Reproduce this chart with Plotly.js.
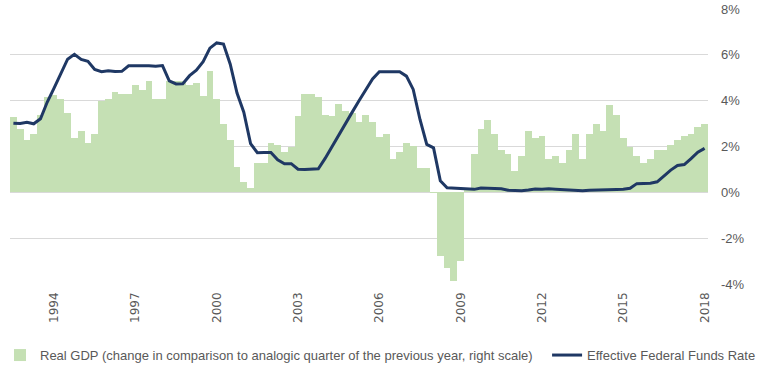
<!DOCTYPE html>
<html>
<head>
<meta charset="utf-8">
<script src="https://cdn.plot.ly/plotly-3.0.1.min.js"></script>
<style>html,body{margin:0;padding:0;background:#fff;}#chart{width:763px;height:381px;}</style>
</head>
<body>
<div id="chart"></div>
<script>
// Quarters 1993Q1 .. 2018Q3
const quarters = [];
for (let y = 1993; y <= 2018; y++) {
  for (let q = 1; q <= 4; q++) {
    if (y === 2018 && q > 3) break;
    quarters.push(y + 'Q' + q);
  }
}

// Real GDP, change vs same quarter of previous year (%)
const gdpGrowth = [
  3.29, 2.78, 2.30, 2.56,
  3.38, 4.16, 4.25, 4.08,
  3.48, 2.39, 2.69, 2.17,
  2.56, 4.00, 4.09, 4.40,
  4.27, 4.27, 4.70, 4.48,
  4.88, 4.09, 4.09, 4.88,
  4.88, 4.88, 4.70, 4.79,
  4.19, 5.28, 4.09, 3.00,
  2.30, 1.09, 0.47, 0.17,
  1.30, 1.30, 2.17, 2.08,
  1.78, 2.00, 3.31, 4.27,
  4.27, 4.18, 3.39, 3.31,
  3.87, 3.57, 3.48, 3.09,
  3.38, 3.09, 2.40, 2.55,
  1.47, 1.76, 2.16, 2.01,
  1.08, 1.08, -0.03, -2.79,
  -3.32, -3.89, -3.01, 0.20,
  1.69, 2.78, 3.17, 2.56,
  1.86, 1.69, 0.92, 1.60,
  2.69, 2.39, 2.48, 1.47,
  1.60, 1.30, 1.86, 2.56,
  1.47, 2.56, 3.00, 2.69,
  3.79, 3.39, 2.39, 2.00,
  1.60, 1.30, 1.47, 1.86,
  1.86, 2.08, 2.30, 2.48,
  2.56, 2.87, 3.00
];

// Effective Federal Funds Rate (%)
const fedFunds = [
  3.02, 3.00, 3.06, 2.99,
  3.21, 3.94, 4.55, 5.20,
  5.81, 6.02, 5.80, 5.72,
  5.36, 5.26, 5.31, 5.27,
  5.28, 5.52, 5.53, 5.51,
  5.52, 5.50, 5.53, 4.86,
  4.73, 4.74, 5.09, 5.33,
  5.70, 6.29, 6.52, 6.47,
  5.59, 4.33, 3.50, 2.13,
  1.73, 1.74, 1.74, 1.42,
  1.25, 1.25, 1.01, 1.00,
  1.00, 1.03, 1.48, 2.00,
  2.52, 3.00, 3.50, 4.00,
  4.48, 4.95, 5.26, 5.26,
  5.26, 5.26, 5.07, 4.49,
  3.18, 2.09, 1.94, 0.50,
  0.20, 0.18, 0.16, 0.12,
  0.13, 0.19, 0.19, 0.19,
  0.16, 0.09, 0.08, 0.07,
  0.10, 0.15, 0.14, 0.16,
  0.14, 0.12, 0.08, 0.09,
  0.07, 0.09, 0.09, 0.10,
  0.11, 0.12, 0.13, 0.18,
  0.38, 0.38, 0.40, 0.46,
  0.72, 0.97, 1.17, 1.21,
  1.47, 1.75, 1.92
];

const xTickQuarters = ['1994Q3','1997Q3','2000Q3','2003Q3','2006Q3','2009Q3','2012Q3','2015Q3','2018Q3'];
const xTickLabels = ['1994','1997','2000','2003','2006','2009','2012','2015','2018'];
const yTickValues = [-4, -2, 0, 2, 4, 6, 8];
const yTickLabels = ['-4%', '-2%', '0%', '2%', '4%', '6%', '8%'];

const seriesNames = [
  'Real GDP (change in comparison to analogic quarter of the previous year, right scale)',
  'Effective Federal Funds Rate'
];

const traces = [
  {
    type: 'bar',
    x: quarters,
    y: gdpGrowth,
    name: seriesNames[0],
    marker: { color: '#c5e0b4', line: { width: 0 } },
    legend: 'legend',
    hoverinfo: 'skip'
  },
  {
    type: 'scatter',
    mode: 'lines',
    x: quarters,
    y: fedFunds,
    name: seriesNames[1],
    line: { color: '#1f3864', width: 3 },
    legend: 'legend2',
    hoverinfo: 'skip'
  }
];

const legendFont = { family: 'Liberation Sans', size: 13, color: '#595959' };

const layout = {
  width: 763,
  height: 381,
  margin: { l: 10, r: 55, t: 9, b: 97, pad: 0 },
  paper_bgcolor: '#ffffff',
  plot_bgcolor: '#ffffff',
  bargap: 0,
  showlegend: true,
  xaxis: {
    type: 'category',
    tickmode: 'array',
    tickvals: xTickQuarters,
    ticktext: xTickLabels,
    tickangle: -90,
    tickfont: { family: 'DejaVu Sans', size: 12, color: '#595959' },
    ticklabelstandoff: 5,
    showgrid: false,
    zeroline: false,
    showline: false,
    ticks: ''
  },
  yaxis: {
    side: 'right',
    range: [-4, 8],
    tickmode: 'array',
    tickvals: yTickValues,
    ticktext: yTickLabels,
    tickfont: { family: 'Liberation Sans', size: 13, color: '#595959' },
    gridcolor: '#d9d9d9',
    gridwidth: 1,
    zeroline: false,
    showline: false,
    ticks: '',
    ticklabelstandoff: 12
  },
  legend: {
    orientation: 'h',
    xref: 'container',
    yref: 'container',
    x: 0,
    xanchor: 'left',
    y: 0.068,
    yanchor: 'middle',
    font: legendFont,
    bgcolor: 'rgba(0,0,0,0)'
  },
  legend2: {
    orientation: 'h',
    xref: 'container',
    yref: 'container',
    x: 0.717,
    xanchor: 'left',
    y: 0.068,
    yanchor: 'middle',
    font: legendFont,
    bgcolor: 'rgba(0,0,0,0)'
  }
};

Plotly.newPlot('chart', traces, layout, { displayModeBar: false, staticPlot: true });
</script>
</body>
</html>
